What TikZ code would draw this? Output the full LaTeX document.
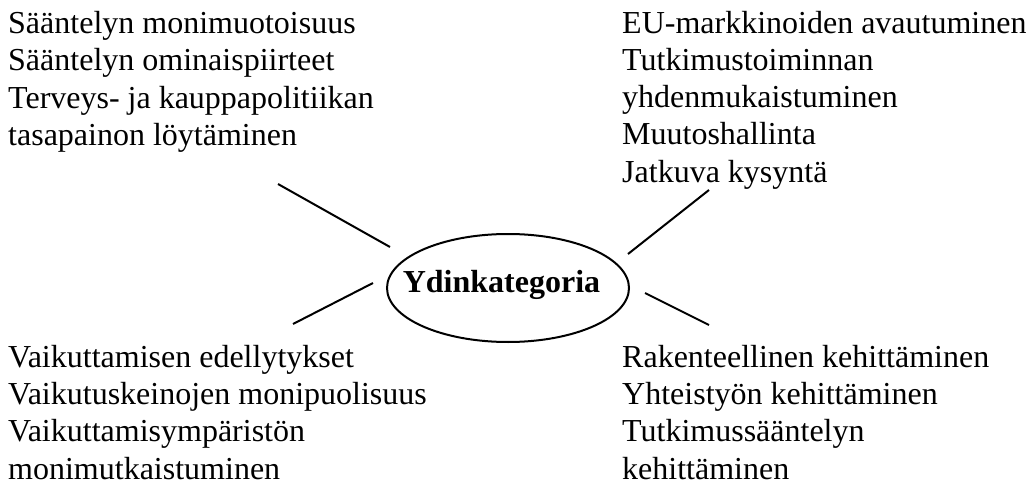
\documentclass[tikz,border=0pt]{standalone}
\usepackage{fontspec}
\setmainfont{Liberation Serif}
\usetikzlibrary{shapes.geometric}
\begin{document}
\begin{tikzpicture}[x=1pt,y=-1pt,
  block/.style={anchor=base west,inner sep=0pt,align=left,
    font=\fontsize{32}{37.3}\selectfont},
  link/.style={line width=2pt},
  core/.style={draw,ellipse,line width=2pt,minimum width=242pt,minimum height=108pt,inner sep=0pt}]
\useasboundingbox (0,0) rectangle (1034,484);

% central concept
\node[core] (core) at (508,288) {};
\node[inner sep=0pt,font=\fontsize{32}{37.3}\selectfont\bfseries] (corelabel) at (501.5,285) {Ydinkategoria};

% the four groups of themes (positioned by the baseline of their last line)
\node[block] (tl) at (8,145.5) {Sääntelyn monimuotoisuus\\Sääntelyn ominaispiirteet\\Terveys- ja kauppapolitiikan\\tasapainon löytäminen};
\node[block] (tr) at (622,182.2) {EU-markkinoiden avautuminen\\Tutkimustoiminnan\\yhdenmukaistuminen\\Muutoshallinta\\Jatkuva kysyntä};
\node[block] (bl) at (8,479) {Vaikuttamisen edellytykset\\Vaikutuskeinojen monipuolisuus\\Vaikuttamisympäristön\\monimutkaistuminen};
\node[block] (br) at (622,479) {Rakenteellinen kehittäminen\\Yhteistyön kehittäminen\\Tutkimussääntelyn\\kehittäminen};

% spokes between the groups and the core
\coordinate (tlA) at (278,184);
\coordinate (tlB) at (390,247);
\coordinate (blA) at (373,283);
\coordinate (blB) at (293,324);
\coordinate (trA) at (628,254);
\coordinate (trB) at (709,190);
\coordinate (brA) at (645,293);
\coordinate (brB) at (709,325);
\draw[link] (tlA) -- (tlB);
\draw[link] (blA) -- (blB);
\draw[link] (trA) -- (trB);
\draw[link] (brA) -- (brB);
\end{tikzpicture}
\end{document}
